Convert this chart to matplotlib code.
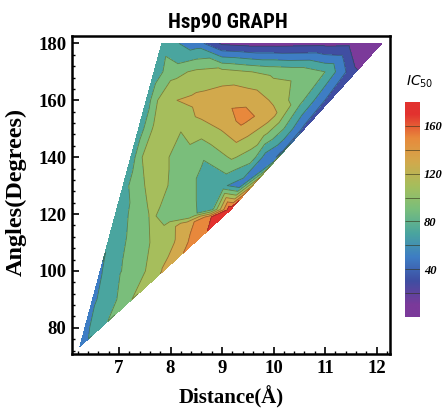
import numpy as np
import matplotlib
matplotlib.use('Agg')
import matplotlib.pyplot as plt
import matplotlib.tri as mtri
from matplotlib.colors import LinearSegmentedColormap, Normalize

# IC50 values, row by row (distance in Å, angle in degrees)
d_180 = [7.83, 8.5, 9.0, 9.5, 10.0, 10.5, 11.0, 11.5, 12.1]
ic_180 = [70, 50, 16, 12, 12, 13, 14, 15, 6]
d_170 = [7.68, 8.0, 8.5, 9.0, 9.5, 10.0, 10.5, 11.0, 11.6]
ic_170 = [66, 92, 104, 108, 101, 95, 92, 80, 21]
d_160 = [7.53, 7.75, 8.0, 8.5, 9.0, 9.5, 10.0, 10.5, 11.1]
ic_160 = [68, 100, 118, 126, 132, 134, 117, 88, 30]
d_150 = [7.38, 7.7, 8.2, 8.6, 9.0, 9.8, 10.2, 10.6]
ic_150 = [68, 106, 101, 110, 122, 116, 80, 34]
d_140 = [7.23, 7.45, 7.8, 8.2, 8.6, 9.2, 9.6, 9.85]
ic_140 = [68, 100, 106, 92, 82, 103, 88, 50]
d_130 = [7.08, 7.3, 7.7, 8.2, 8.6, 9.0, 9.35]
ic_130 = [68, 92, 108, 92, 76, 64, 50]
d_120 = [6.94, 7.3, 7.65]
ic_120 = [64, 88, 103]
d_110 = [6.79, 7.2, 7.6, 8.05, 8.47]
ic_110 = [61, 84, 100, 118, 150]
d_100 = [6.64, 7.0, 7.45, 7.86]
ic_100 = [58, 78, 96, 122]
d_90 = [6.49, 6.9, 7.25]
ic_90 = [56, 76, 100]
d_80 = [6.34, 6.64]
ic_80 = [54, 74]

# scattered points (peak and its shoulders, steep ridge near 9 Å / 120°, corners, edge)
extra_d = [9.41, 8.6, 10.0, 7.9, 8.4, 8.8, 7.85, 8.3, 8.75, 9.16, 10.19, 11.3, 6.24]
extra_a = [154, 156, 155, 117.5, 119.7, 121.8, 114.5, 116.5, 118.7, 121.4, 142, 175, 73.4]
extra_ic = [149, 128, 125, 92, 84, 70, 108, 130, 158, 178, 38, 45, 50]

rows = [(180, d_180, ic_180), (170, d_170, ic_170), (160, d_160, ic_160),
        (150, d_150, ic_150), (140, d_140, ic_140), (130, d_130, ic_130),
        (120, d_120, ic_120), (110, d_110, ic_110), (100, d_100, ic_100),
        (90, d_90, ic_90), (80, d_80, ic_80)]

dist, ang, ic = list(extra_d), list(extra_a), list(extra_ic)
for a, d, v in rows:
    dist += d
    ang += [a] * len(d)
    ic += v
dist, ang, ic = np.array(dist), np.array(ang), np.array(ic, dtype=float)

levels = np.arange(0, 181, 20)
band_colors = [(0.0, '#7b3a9a'), (10/180, '#7b3a9a'), (30/180, '#3f4ea2'),
               (50/180, '#3e7dc4'), (70/180, '#4aa59f'), (90/180, '#79be7c'),
               (110/180, '#a6be5c'), (130/180, '#d2a94c'), (150/180, '#e88a3c'),
               (170/180, '#e2322f'), (1.0, '#e2322f')]
cmap = LinearSegmentedColormap.from_list('rainbow_ic', band_colors)
norm = Normalize(0, 180)

serif = 'Liberation Serif'
fig = plt.figure(figsize=(4.44, 4.08), dpi=100)
ax = fig.add_axes([72/444, 1 - 354/408, 318/444, 318/408])

# triangulate in screen-like proportions (1 degree ~ 0.055 Å on the plot)
tri_s = mtri.Triangulation(dist, ang * 0.0552)
tri = mtri.Triangulation(dist, ang, triangles=tri_s.triangles)
ax.tricontourf(tri, ic, levels=levels, cmap=cmap, norm=norm)
ax.tricontour(tri, ic, levels=levels[1:-1], colors=[(0.2, 0.2, 0.1, 0.45)], linewidths=0.6)

ax.set_xlim(6.087, 12.262)
ax.set_ylim(70.8, 182.6)
ax.set_xticks([7, 8, 9, 10, 11, 12])
ax.set_yticks([80, 100, 120, 140, 160, 180])
ax.set_xticks(np.arange(6.2, 12.3, 0.2), minor=True)
ax.set_yticks(np.arange(72, 182.6, 4), minor=True)
ax.tick_params(which='major', direction='in', length=5, width=1.2, pad=4)
ax.tick_params(which='minor', direction='in', length=2.5, width=1.0)
for lab in ax.get_xticklabels() + ax.get_yticklabels():
    lab.set_fontfamily(serif)
    lab.set_fontweight('bold')
    lab.set_fontsize(13.5)
for s in ax.spines.values():
    s.set_linewidth(1.8)

fig.text(16/444, 1 - 192/408, 'Angles(Degrees)', rotation=90, ha='center', va='center',
         family=serif, fontweight='bold', fontsize=17.5)
fig.text(231/444, 1 - 397/408, 'Distance(Å)', ha='center', va='center',
         family=serif, fontweight='bold', fontsize=15)
fig.text(228/444, 1 - 22/408, 'Hsp90 GRAPH', ha='center', va='center',
         family=['Roboto Condensed', 'Roboto', 'DejaVu Sans'],
         fontweight='bold', fontsize=15)

# legend bar
cax = fig.add_axes([405/444, 1 - 317/408, 15/444, 215/408])
grad = np.linspace(0, 180, 256).reshape(-1, 1)
cax.imshow(grad, origin='lower', extent=[0, 1, 0, 180], aspect='auto', cmap=cmap, norm=norm)
cax.hlines(levels[1:-1], 0, 1, colors=[(0.2, 0.2, 0.1, 0.6)], linewidth=0.7)
cax.set_xlim(0, 1)
cax.set_ylim(0, 180)
cax.set_xticks([])
cax.yaxis.tick_right()
cax.set_yticks([40, 80, 120, 160])
cax.tick_params(length=0, pad=3)
for lab in cax.get_yticklabels():
    lab.set_fontfamily(serif)
    lab.set_fontstyle('italic')
    lab.set_fontweight('bold')
    lab.set_fontsize(9)
for s in cax.spines.values():
    s.set_visible(False)
fig.text(420/444, 1 - 82/408, r'$IC_{50}$', ha='center', va='center', fontsize=10)

fig.savefig('out.png', dpi=100)
